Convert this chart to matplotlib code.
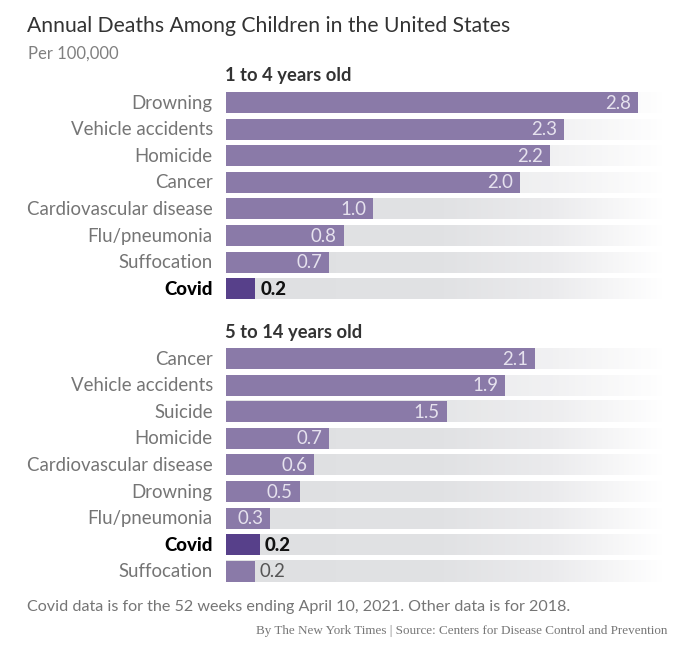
import numpy as np
import matplotlib
matplotlib.use("Agg")
import matplotlib.pyplot as plt
from matplotlib.colors import LinearSegmentedColormap

# data
causes_young = ["Drowning", "Vehicle accidents", "Homicide", "Cancer",
                "Cardiovascular disease", "Flu/pneumonia", "Suffocation", "Covid"]
rates_young = [2.8, 2.3, 2.2, 2.0, 1.0, 0.8, 0.7, 0.2]
labels_young = ["2.8", "2.3", "2.2", "2.0", "1.0", "0.8", "0.7", "0.2"]

causes_older = ["Cancer", "Vehicle accidents", "Suicide", "Homicide",
                "Cardiovascular disease", "Drowning", "Flu/pneumonia", "Covid", "Suffocation"]
rates_older = [2.1, 1.9, 1.5, 0.7, 0.6, 0.5, 0.3, 0.23, 0.2]
labels_older = ["2.1", "1.9", "1.5", "0.7", "0.6", "0.5", "0.3", "0.2", "0.2"]

W, H = 680, 649
BAR_LEFT, TRACK_RIGHT = 226, 663
PX_PER_UNIT = 147.1
ROW = 26.6
BAR_PX = 21.0
FS = 13.45

PURPLE = "#8a7aa8"
DARK_PURPLE = "#57408a"
LABEL_GREY = "#757575"

plt.rcParams["font.family"] = ["Lato", "DejaVu Sans"]

fade = LinearSegmentedColormap.from_list(
    "fade", [(0, "#dfe0e2"), (0.5, "#e1e2e4"), (0.75, "#ebebed"), (1, "#ffffff")])
ramp = np.linspace(0, 1, 256).reshape(1, -1)

fig = plt.figure(figsize=(W / 100, H / 100), dpi=100, facecolor="white")


def draw_panel(top_px, causes, rates, labels):
    n = len(causes)
    height_px = n * ROW
    # top_px is the top of the first row slot
    ax = fig.add_axes([BAR_LEFT / W, 1 - (top_px + height_px) / H,
                       (TRACK_RIGHT - BAR_LEFT) / W, height_px / H])
    xmax = (TRACK_RIGHT - BAR_LEFT) / PX_PER_UNIT
    h = BAR_PX / ROW
    for i in range(n):
        # tracks behind the long bars are paler in the original
        alpha = 0.68 if rates[i] >= 1.9 else (0.85 if rates[i] >= 1.5 else 1.0)
        ax.imshow(ramp, cmap=fade, vmin=0, vmax=1, aspect="auto", zorder=1, alpha=alpha,
                  extent=[0, xmax, i + h / 2, i - h / 2])
    colors = [DARK_PURPLE if c == "Covid" else PURPLE for c in causes]
    ax.barh(range(n), rates, height=h, color=colors, zorder=2)
    ax.set_xlim(0, xmax)
    ax.set_ylim(n - 0.5, -0.5)
    ax.axis("off")

    for i, (cause, rate, label) in enumerate(zip(causes, rates, labels)):
        covid = cause == "Covid"
        ax.annotate(cause, (0, i), xytext=(-9.5, -0.5), textcoords="offset points",
                    ha="right", va="center", fontsize=FS,
                    color="black" if covid else LABEL_GREY,
                    fontweight="black" if covid else "normal")
        if covid:
            ax.annotate(label, (rate, i), xytext=(3.5, -0.5), textcoords="offset points",
                        ha="left", va="center", fontsize=FS, fontweight="black", color="#111111")
        elif rate < 0.25:
            ax.annotate(label, (rate, i), xytext=(3, -0.5), textcoords="offset points",
                        ha="left", va="center", fontsize=FS, color="#555555")
        else:
            ax.annotate(label, (rate, i), xytext=(-5, -0.5), textcoords="offset points",
                        ha="right", va="center", fontsize=FS, color="#e6e2ee")
    return ax


draw_panel(92 + 10.5 - ROW / 2, causes_young, rates_young, labels_young)
draw_panel(348 + 10.5 - ROW / 2, causes_older, rates_older, labels_older)


def px_text(x, y, s, **kw):
    fig.text(x / W, 1 - y / H, s, va="center", **kw)


px_text(27, 26, "Annual Deaths Among Children in the United States", fontsize=15.2, color="#333333")
px_text(28, 54, "Per 100,000", fontsize=12, color="#808080")
px_text(225, 76, "1 to 4 years old", fontsize=13.2, fontweight="bold", color="#333333")
px_text(225, 332, "5 to 14 years old", fontsize=13.2, fontweight="bold", color="#333333")
px_text(27, 607, "Covid data is for the 52 weeks ending April 10, 2021. Other data is for 2018.",
        fontsize=11.6, color="#757575")
fig.text(667 / W, 1 - 631 / H, "By The New York Times | Source: Centers for Disease Control and Prevention",
         ha="right", va="center", fontsize=9.42, color="#777777", family="Liberation Serif")

fig.savefig("out.png", dpi=100)
